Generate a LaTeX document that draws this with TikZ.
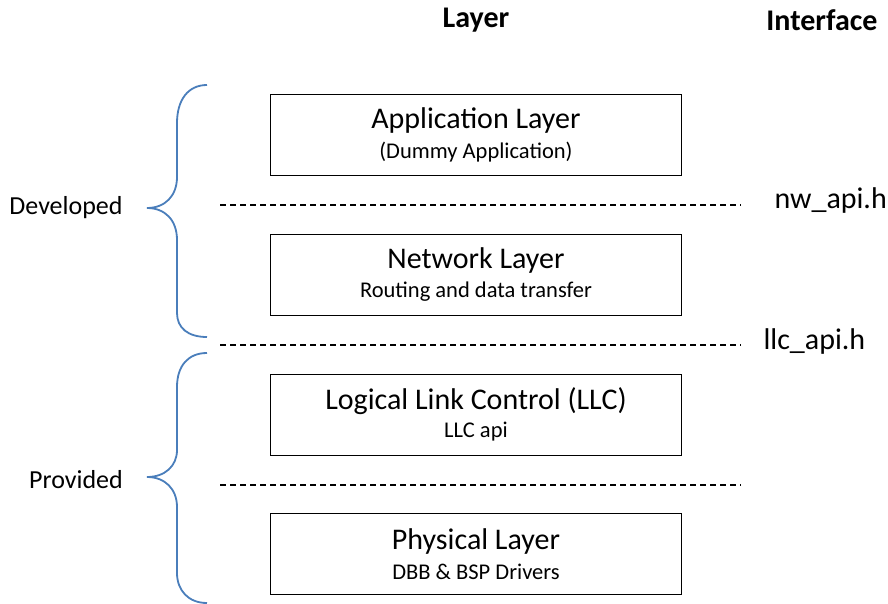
\documentclass[tikz,border=0pt]{standalone}
\usepackage{fontspec}
\setmainfont{Carlito}
\begin{document}
\begin{tikzpicture}[x=1pt,y=-1pt,
  layerbox/.style={draw=black,line width=1.4pt,minimum width=411pt,minimum height=81pt,inner sep=0pt},
  title/.style={font=\fontsize{30}{32}\selectfont},
  sub/.style={font=\fontsize{22.5}{24}\selectfont},
  head/.style={font=\fontsize{30}{32}\selectfont\bfseries},
  side/.style={font=\fontsize{26}{28}\selectfont},
  iface/.style={font=\fontsize{30}{32}\selectfont,anchor=west},
  sep/.style={draw=black,line width=1.2pt,dash pattern=on 6pt off 4pt},
  brace/.style={draw=brace blue,line width=1.8pt}]
\definecolor{brace blue}{HTML}{4A7EBB}
\useasboundingbox (0,0) rectangle (888,604);

% column headings
\node[head] (hlayer) at (476,20) {Layer};
\node[head] (hiface) at (822,20) {Interface};

% protocol layers
\node[layerbox] (app) at (476,135) {};
\node[title] (appt) at (476,121) {Application Layer};
\node[sub] (apps) at (476,152) {(Dummy Application)};

\node[layerbox] (nw) at (476,275) {};
\node[title] (nwt) at (476,261) {Network Layer};
\node[sub] (nws) at (476,292) {Routing and data transfer};

\node[layerbox] (llc) at (476,415) {};
\node[title] (llct) at (476,401) {Logical Link Control (LLC)};
\node[sub] (llcs) at (476,432) {LLC api};

\node[layerbox] (phy) at (476,554) {};
\node[title] (phyt) at (476,541) {Physical Layer};
\node[sub] (phys) at (476,572) {DBB \& BSP Drivers};

% interface separators
\coordinate (s1a) at (220,205); \coordinate (s1b) at (741,205);
\coordinate (s2a) at (220,345); \coordinate (s2b) at (741,345);
\coordinate (s3a) at (220,485); \coordinate (s3b) at (741,485);
\draw[sep] (s1a) -- (s1b);
\draw[sep] (s2a) -- (s2b);
\draw[sep] (s3a) -- (s3b);

\node[iface] (nwapi) at (771,201) {nw\_api.h};
\node[iface] (llcapi) at (760,341) {llc\_api.h};

% grouping braces
\draw[brace] (207,85) .. controls (188,85) and (177,100) .. (177,123)
  -- (177,177) .. controls (177,196) and (165,208) .. (147,208)
  .. controls (165,208) and (177,220) .. (177,240)
  -- (177,313) .. controls (177,328) and (188,337) .. (207,337);
\draw[brace] (207,353) .. controls (188,353) and (177,366) .. (177,387)
  -- (177,450) .. controls (177,466) and (165,477) .. (147,477)
  .. controls (165,477) and (177,489) .. (177,507)
  -- (177,573) .. controls (177,590) and (188,603) .. (207,603);

\node[side] (dev) at (66,208) {Developed};
\node[side] (prov) at (76,480) {Provided};
\end{tikzpicture}
\end{document}
